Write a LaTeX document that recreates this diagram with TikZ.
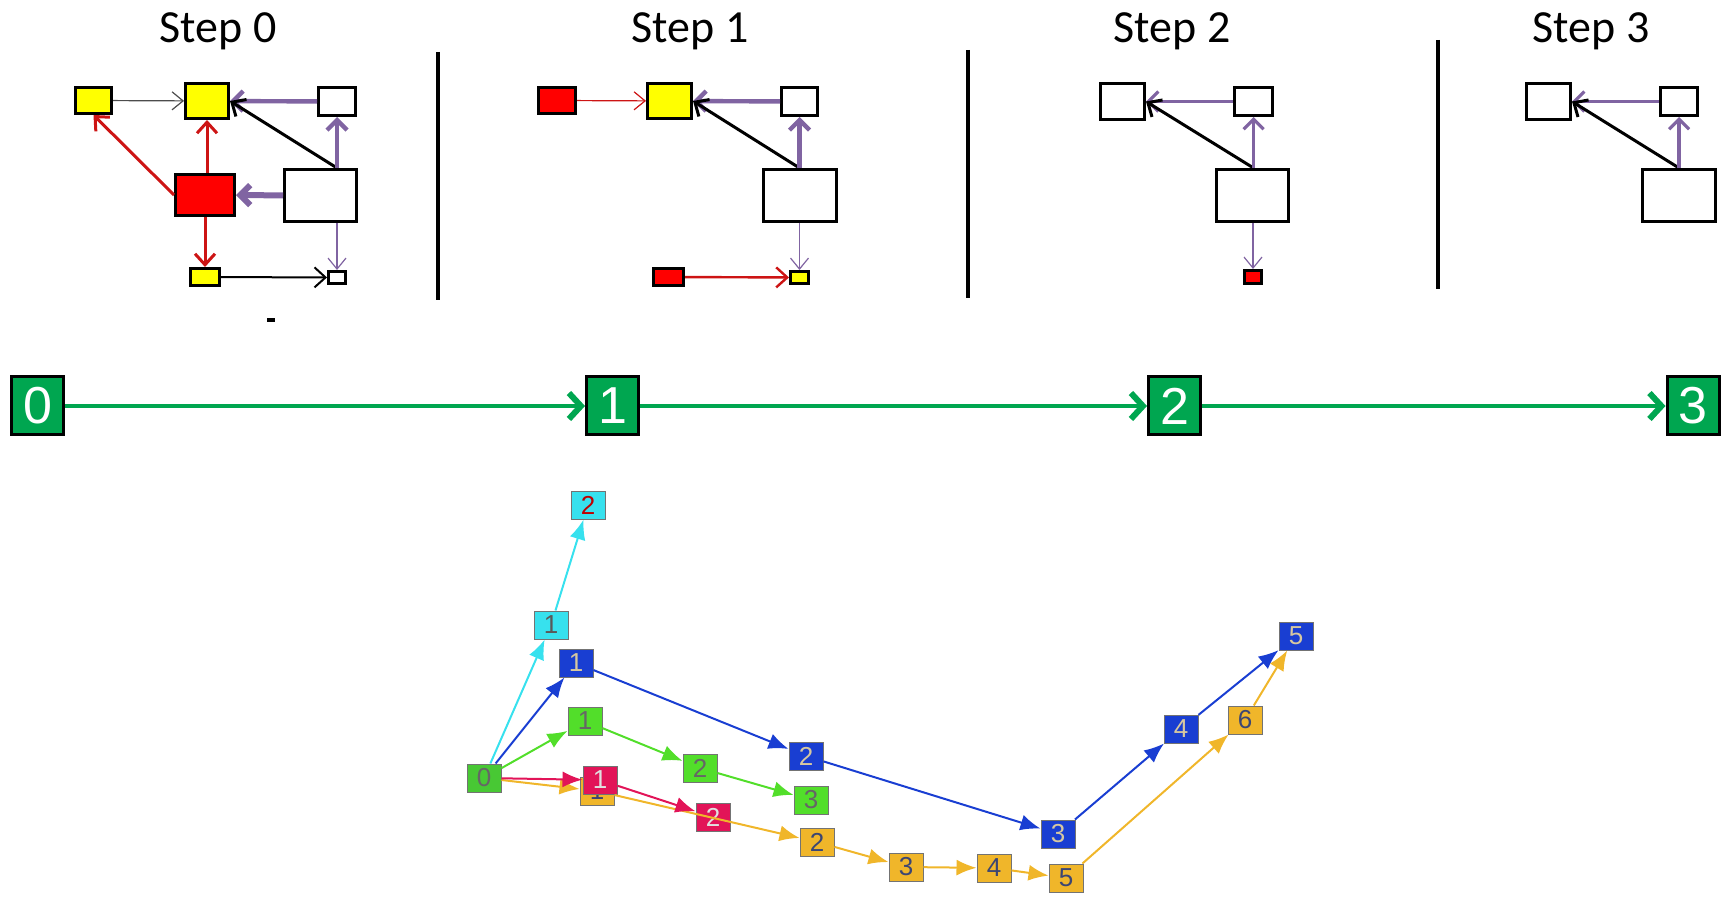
\documentclass[tikz,border=0pt]{standalone}
\usepackage{fontspec}
\setmainfont{Carlito}
\newfontfamily\arialfont{Liberation Sans}
\usetikzlibrary{arrows.meta}
\definecolor{stepyellow}{RGB}{255,255,0}
\definecolor{stepred}{RGB}{255,0,0}
\definecolor{linkred}{RGB}{205,20,20}
\definecolor{linkpurple}{RGB}{128,100,162}
\definecolor{tlgreen}{RGB}{0,166,80}
\definecolor{startgreen}{RGB}{72,200,52}
\definecolor{trcyan}{RGB}{55,225,238}
\definecolor{trblue}{RGB}{25,62,210}
\definecolor{trgreen}{RGB}{82,222,42}
\definecolor{trred}{RGB}{226,20,88}
\definecolor{trorange}{RGB}{240,182,42}
\definecolor{tanlabel}{RGB}{215,200,160}
\definecolor{slatelabel}{RGB}{60,70,115}

\begin{document}
\begin{tikzpicture}[x=0.5pt, y=-0.5pt,
  box/.style={draw, line width=1.5pt, inner sep=0pt, fill=white},
  sz/.style 2 args={minimum width=#1, minimum height=#2},
  title/.style={font=\fontsize{23}{23}\selectfont, anchor=base},
  thinlink/.style={line width=0.6pt, -{Straight Barb[length=5.5pt,width=9pt]}},
  link/.style={line width=1.5pt, -{Straight Barb[length=5.5pt,width=10pt]}},
  heavylink/.style={line width=2.2pt, linkpurple, -{Straight Barb[length=5pt,width=10pt]}},
  sep/.style={line width=2pt},
  stamp/.style={draw=black, line width=1.5pt, fill=tlgreen, sz={26pt}{29pt}, inner sep=0pt, text=white, font=\arialfont\fontsize{26}{26}\selectfont},
  flow/.style={line width=2pt, tlgreen, -{Straight Barb[length=6pt,width=13pt,line width=3pt]}},
  crumb/.style={draw=black!55, line width=0.5pt, sz={17pt}{14pt}, inner sep=0pt, font=\arialfont\fontsize{13}{13}\selectfont},
  trail/.style={line width=1pt, -{Latex[length=10pt,width=8pt]}}]
\useasboundingbox (0,0) rectangle (1732,897);

% step titles and separators
\node[title] (lbl0) at (218,43) {Step 0};
\node[title] (lbl1) at (690,43) {Step 1};
\node[title] (lbl2) at (1172,43) {Step 2};
\node[title] (lbl3) at (1591,43) {Step 3};
\draw[sep] (438,52) -- (438,300);
\draw[sep] (968,50) -- (968,298);
\draw[sep] (1438,40) -- (1438,289);
\fill (267,318) rectangle (275,322);

% step 0
\node[box, fill=stepyellow, sz={18pt}{13pt}] (in0) at (93.5,100.5) {};
\node[box, fill=stepyellow, sz={21.5pt}{17.5pt}] (hub0) at (207,101) {};
\node[box, sz={18.5pt}{14pt}] (top0) at (337,101.5) {};
\node[box, fill=stepred, sz={29.5pt}{20.5pt}] (mid0) at (205,195) {};
\node[box, sz={36pt}{26pt}] (root0) at (320.5,195.5) {};
\node[box, fill=stepyellow, sz={14.5pt}{8.5pt}] (low0) at (205,277) {};
\node[box, sz={8.5pt}{6pt}] (sink0) at (337,277.5) {};
\draw[thinlink, black!70] (in0) -- (hub0); \draw[heavylink] (top0) -- (hub0);
\draw[link] (top0.south |- root0.north) -- (hub0.east); \draw[heavylink] (top0.south |- root0.north) -- (top0.south);
\draw[link, linkred] (mid0.west) -- (in0.south); \draw[link, linkred] (hub0.south |- mid0.north) -- (hub0.south);
\draw[heavylink, line width=3pt] (root0) -- (mid0); \draw[link, linkred] (mid0.south) -- (low0.north);
\draw[link, line width=1pt] (low0) -- (sink0); \draw[thinlink, linkpurple] (sink0.north |- root0.south) -- (sink0.north);

% step 1
\node[box, fill=stepred, sz={18.5pt}{13pt}] (in1) at (557,100.5) {};
\node[box, fill=stepyellow, sz={22pt}{17.5pt}] (hub1) at (669.5,101) {};
\node[box, sz={18pt}{14pt}] (top1) at (799.5,101.5) {};
\node[box, sz={36.5pt}{26pt}] (root1) at (800,195.5) {};
\node[box, fill=stepred, sz={15pt}{8.5pt}] (low1) at (668.5,277) {};
\node[box, fill=stepyellow, sz={9pt}{6pt}] (sink1) at (799.5,277.5) {};
\draw[thinlink, linkred] (in1) -- (hub1); \draw[heavylink] (top1) -- (hub1);
\draw[link] (top1.south |- root1.north) -- (hub1.east); \draw[heavylink] (top1.south |- root1.north) -- (top1.south);
\draw[thinlink, linkpurple] (sink1.north |- root1.south) -- (sink1.north); \draw[link, linkred, line width=1.2pt] (low1) -- (sink1);

% step 2
\node[box, sz={22pt}{18pt}] (hub2) at (1122.5,101.5) {};
\node[box, sz={19pt}{14pt}] (top2) at (1253.5,101.5) {};
\node[box, sz={36pt}{26pt}] (root2) at (1252.5,195.5) {};
\node[box, fill=stepred, sz={8.5pt}{6.5pt}] (sink2) at (1253,277) {};
\draw[heavylink, line width=1.6pt] (top2) -- (hub2); \draw[link] (top2.south |- root2.north) -- (hub2.east);
\draw[heavylink, line width=1.6pt] (top2.south |- root2.north) -- (top2.south); \draw[thinlink, linkpurple] (sink2.north |- root2.south) -- (sink2.north);

% step 3
\node[box, sz={22pt}{18pt}] (hub3) at (1548.5,101.5) {};
\node[box, sz={18.5pt}{14pt}] (top3) at (1679,101.5) {};
\node[box, sz={36.5pt}{26pt}] (root3) at (1679,195.5) {};
\draw[heavylink, line width=1.6pt] (top3) -- (hub3); \draw[link] (top3.south |- root3.north) -- (hub3.east);
\draw[heavylink, line width=1.6pt] (top3.south |- root3.north) -- (top3.south);

% timeline
\node[stamp] (t0) at (37.5,406) {0};
\node[stamp] (t1) at (612.5,406) {1};
\node[stamp] (t2) at (1174.5,406) {2};
\node[stamp] (t3) at (1693,406) {3};
\draw[flow] (t0) -- (t1); \draw[flow] (t1) -- (t2); \draw[flow] (t2) -- (t3);

% trails
\node[crumb, fill=startgreen, text=black!60] (start) at (484,778) {0};
\node[crumb, fill=trcyan, text=black!65] (cy1) at (551,625) {1};
\node[crumb, fill=trcyan, text=red!75!black] (cy2) at (588,505) {2};
\node[crumb, fill=trblue, text=tanlabel] (bl1) at (576,663) {1};
\node[crumb, fill=trblue, text=tanlabel] (bl2) at (806,756) {2};
\node[crumb, fill=trblue, text=tanlabel] (bl3) at (1058,834) {3};
\node[crumb, fill=trblue, text=tanlabel] (bl4) at (1181,729) {4};
\node[crumb, fill=trblue, text=tanlabel] (bl5) at (1296,636) {5};
\node[crumb, fill=trgreen, text=black!60] (gr1) at (585,721) {1};
\node[crumb, fill=trgreen, text=black!60] (gr2) at (700,768) {2};
\node[crumb, fill=trgreen, text=black!60] (gr3) at (811,800) {3};
\node[crumb, fill=trorange, text=slatelabel] (or1) at (597,791) {1};
\node[crumb, fill=trred, text=black!12] (rd1) at (600,780) {1};
\node[crumb, fill=trred, text=black!12] (rd2) at (713,817) {2};
\node[crumb, fill=trorange, text=slatelabel] (or2) at (817,842) {2};
\node[crumb, fill=trorange, text=slatelabel] (or3) at (906,867) {3};
\node[crumb, fill=trorange, text=slatelabel] (or4) at (994,868) {4};
\node[crumb, fill=trorange, text=slatelabel] (or5) at (1066,878) {5};
\node[crumb, fill=trorange, text=slatelabel] (or6) at (1245,720) {6};
\draw[trail, trcyan] (start) -- (cy1); \draw[trail, trcyan] (cy1) -- (cy2);
\draw[trail, trblue] (start) -- (bl1); \draw[trail, trblue] (bl1) -- (bl2); \draw[trail, trblue] (bl2) -- (bl3);
\draw[trail, trblue] (bl3) -- (bl4); \draw[trail, trblue] (bl4) -- (bl5);
\draw[trail, trgreen] (start) -- (gr1); \draw[trail, trgreen] (gr1) -- (gr2); \draw[trail, trgreen] (gr2) -- (gr3);
\draw[trail, trorange] (start) -- (or1); \draw[trail, trorange] (or1) -- (or2); \draw[trail, trorange] (or2) -- (or3);
\draw[trail, trorange] (or3) -- (or4); \draw[trail, trorange] (or4) -- (or5); \draw[trail, trorange] (or5) -- (or6);
\draw[trail, trorange] (or6) -- (bl5);
\draw[trail, trred] (start) -- (rd1); \draw[trail, trred] (rd1) -- (rd2);
\end{tikzpicture}
\end{document}
